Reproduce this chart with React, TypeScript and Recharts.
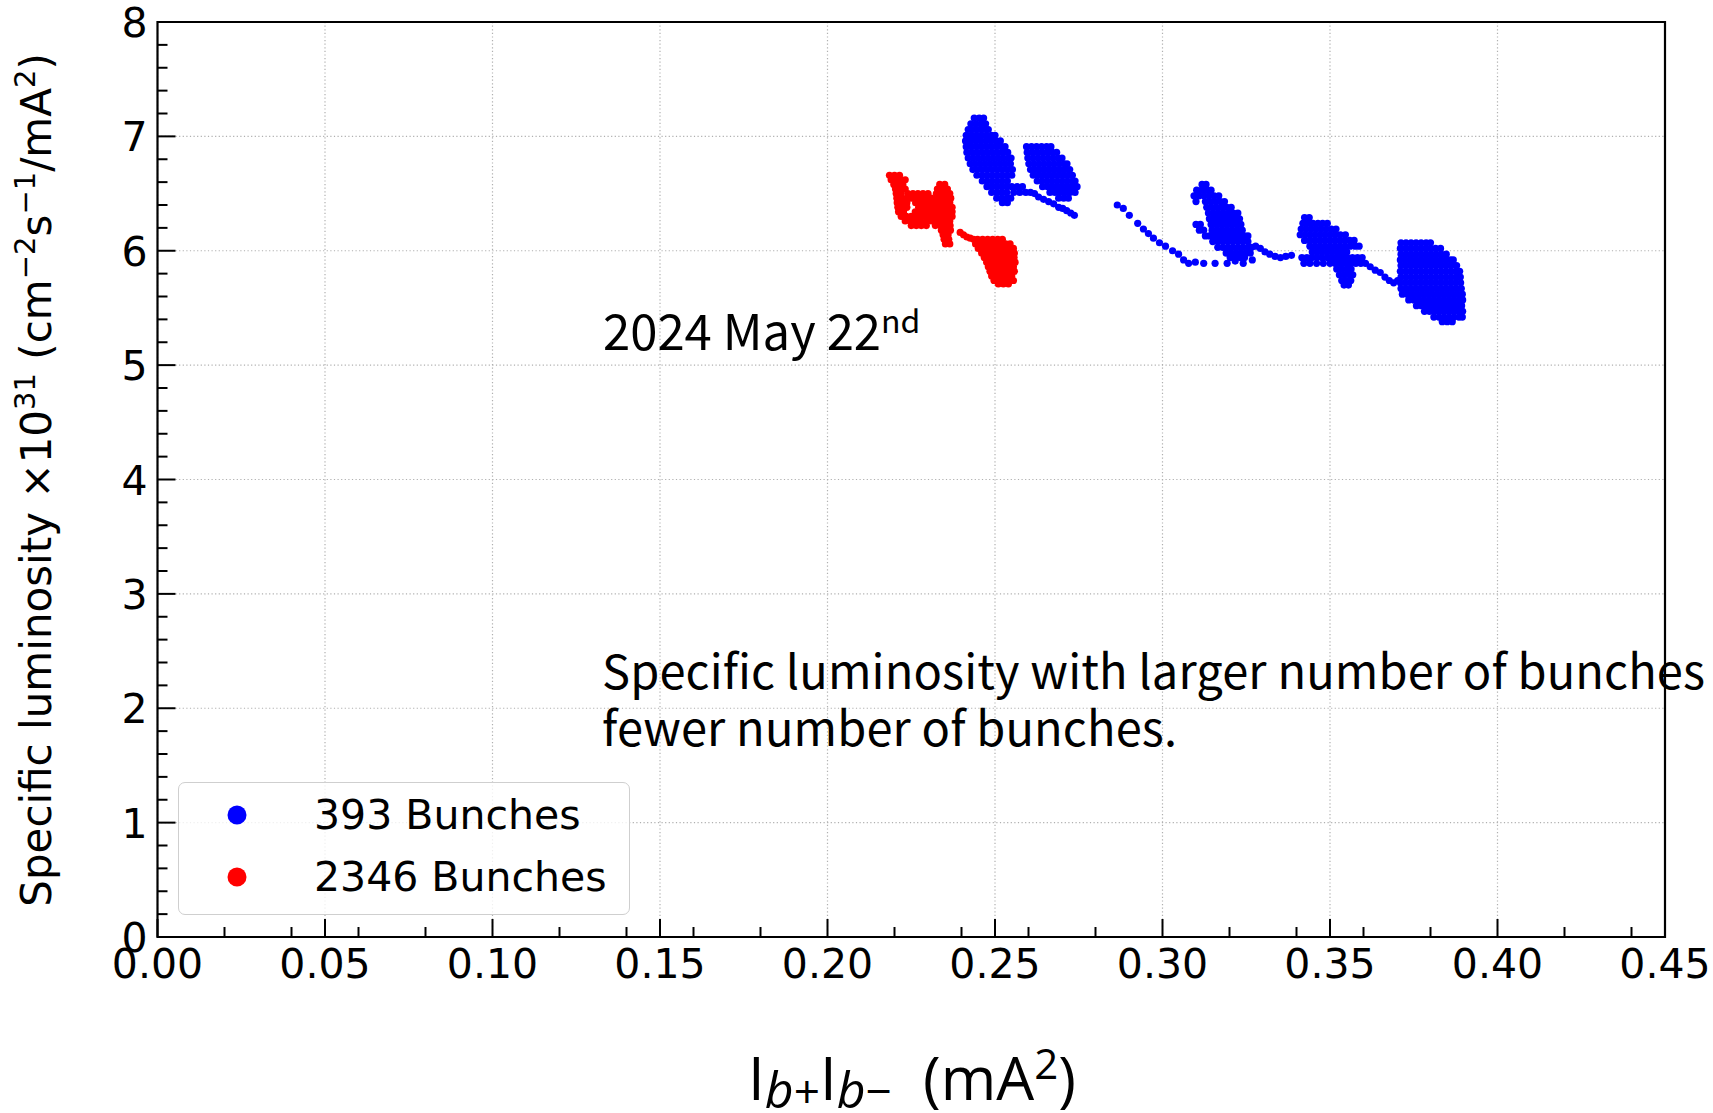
import React from 'react';
import { ScatterChart, Scatter, XAxis, YAxis, CartesianGrid, ReferenceArea, Legend } from 'recharts';

// ---------- axis ticks (majors labelled, minors unlabelled) ----------
const X_TICKS = [0, 0.02, 0.04, 0.05, 0.06, 0.08, 0.1, 0.12, 0.14, 0.15, 0.16, 0.18, 0.2, 0.22, 0.24, 0.25, 0.26, 0.28, 0.3, 0.32, 0.34, 0.35, 0.36, 0.38, 0.4, 0.42, 0.44, 0.45];
const X_MAJOR = [0, 0.05, 0.1, 0.15, 0.2, 0.25, 0.3, 0.35, 0.4, 0.45];
const Y_TICKS = [0, 0.2, 0.4, 0.6, 0.8, 1, 1.2, 1.4, 1.6, 1.8, 2, 2.2, 2.4, 2.6, 2.8, 3, 3.2, 3.4, 3.6, 3.8, 4, 4.2, 4.4, 4.6, 4.8, 5, 5.2, 5.4, 5.6, 5.8, 6, 6.2, 6.4, 6.6, 6.8, 7, 7.2, 7.4, 7.6, 7.8, 8];
const Y_MAJOR = [0, 1, 2, 3, 4, 5, 6, 7, 8];

const SERIES_NAMES = ['393 Bunches', '2346 Bunches'];
const SERIES_COLORS = ['#0000ff', '#ff0000'];

// ---------- 2346 bunches (red): rows are [y, x, x, ...] ----------
const RED_ROWS_A: number[][] = [
  [6.66, 0.2185, 0.2200, 0.2215],
  [6.62, 0.2190, 0.2205, 0.2220, 0.2232],
  [6.58, 0.2198, 0.2212, 0.2225, 0.2335, 0.2350],
  [6.54, 0.2203, 0.2218, 0.2232, 0.2328, 0.2343, 0.2358],
  [6.50, 0.2205, 0.2220, 0.2240, 0.2255, 0.2270, 0.2285, 0.2300, 0.2325, 0.2340, 0.2355, 0.2365],
  [6.46, 0.2207, 0.2222, 0.2237, 0.2250, 0.2265, 0.2280, 0.2295, 0.2310, 0.2325, 0.2340, 0.2355, 0.2368],
  [6.42, 0.2208, 0.2222, 0.2237, 0.2263, 0.2275, 0.2290, 0.2305, 0.2320, 0.2335, 0.2350, 0.2365],
  [6.38, 0.2210, 0.2222, 0.2237, 0.2272, 0.2287, 0.2302, 0.2318, 0.2333, 0.2348, 0.2363, 0.2372],
  [6.34, 0.2212, 0.2227, 0.2262, 0.2276, 0.2290, 0.2304, 0.2318, 0.2332, 0.2346, 0.2360, 0.2372],
  [6.30, 0.2220, 0.2235, 0.2250, 0.2264, 0.2278, 0.2292, 0.2306, 0.2320, 0.2334, 0.2348, 0.2363, 0.2372],
  [6.26, 0.2232, 0.2247, 0.2262, 0.2277, 0.2295, 0.2310, 0.2322, 0.2335, 0.2350, 0.2365],
  [6.22, 0.2250, 0.2265, 0.2280, 0.2295, 0.2322, 0.2338, 0.2353, 0.2366],
  [6.18, 0.2340, 0.2355, 0.2367],
  [6.14, 0.2345, 0.2360],
  [6.10, 0.2348, 0.2362],
  [6.06, 0.2352, 0.2365],
];
const RED_TAIL: number[][] = [
  [0.2396, 6.16], [0.2406, 6.14], [0.2416, 6.12], [0.2426, 6.11], [0.2436, 6.10],
];
const RED_ROWS_B: number[][] = [
  [6.10, 0.2448, 0.2463, 0.2478, 0.2493, 0.2508, 0.2522],
  [6.06, 0.2442, 0.2457, 0.2472, 0.2487, 0.2502, 0.2517, 0.2532, 0.2545],
  [6.02, 0.2450, 0.2465, 0.2480, 0.2495, 0.2510, 0.2525, 0.2540, 0.2555],
  [5.98, 0.2460, 0.2475, 0.2490, 0.2505, 0.2520, 0.2535, 0.2550, 0.2558],
  [5.94, 0.2468, 0.2483, 0.2498, 0.2513, 0.2528, 0.2543, 0.2557],
  [5.90, 0.2475, 0.2490, 0.2505, 0.2520, 0.2535, 0.2550, 0.2560],
  [5.86, 0.2480, 0.2495, 0.2510, 0.2525, 0.2540, 0.2555],
  [5.82, 0.2485, 0.2500, 0.2515, 0.2530, 0.2545, 0.2558],
  [5.78, 0.2490, 0.2505, 0.2520, 0.2535, 0.2550],
  [5.74, 0.2497, 0.2512, 0.2527, 0.2542, 0.2555],
  [5.71, 0.2510, 0.2525, 0.2540],
];

// ---------- 393 bunches (blue) ----------
const BLUE_ROWS_1: number[][] = [
  [7.16, 0.2438, 0.2453, 0.2466],
  [7.11, 0.2428, 0.2443, 0.2458, 0.2472],
  [7.06, 0.2420, 0.2435, 0.2450, 0.2465, 0.2480],
  [7.01, 0.2414, 0.2429, 0.2444, 0.2459, 0.2474, 0.2489, 0.2500],
  [6.96, 0.2412, 0.2427, 0.2442, 0.2457, 0.2472, 0.2487, 0.2502, 0.2516],
  [6.91, 0.2414, 0.2429, 0.2444, 0.2459, 0.2474, 0.2489, 0.2504, 0.2519, 0.2530],
  [6.86, 0.2416, 0.2431, 0.2446, 0.2461, 0.2476, 0.2491, 0.2506, 0.2521, 0.2538],
  [6.81, 0.2420, 0.2435, 0.2450, 0.2465, 0.2480, 0.2495, 0.2510, 0.2525, 0.2540, 0.2548],
  [6.76, 0.2426, 0.2441, 0.2456, 0.2471, 0.2486, 0.2501, 0.2516, 0.2531, 0.2546],
  [6.71, 0.2434, 0.2449, 0.2464, 0.2479, 0.2494, 0.2509, 0.2524, 0.2539, 0.2552],
  [6.66, 0.2446, 0.2461, 0.2476, 0.2491, 0.2506, 0.2521, 0.2536, 0.2550],
  [6.61, 0.2462, 0.2477, 0.2492, 0.2507, 0.2522, 0.2537],
  [6.56, 0.2476, 0.2491, 0.2506, 0.2521, 0.2536, 0.2550, 0.2566, 0.2582],
  [6.51, 0.2490, 0.2505, 0.2520, 0.2535, 0.2556, 0.2574, 0.2592, 0.2606],
  [6.46, 0.2505, 0.2520, 0.2535, 0.2547],
  [6.42, 0.2522, 0.2537],
];
const BLUE_ROWS_2: number[][] = [
  [6.91, 0.2594, 0.2609, 0.2624, 0.2639, 0.2654, 0.2667],
  [6.86, 0.2596, 0.2611, 0.2626, 0.2641, 0.2656, 0.2671, 0.2684],
  [6.81, 0.2598, 0.2613, 0.2628, 0.2643, 0.2658, 0.2673, 0.2688, 0.2700],
  [6.76, 0.2601, 0.2616, 0.2631, 0.2646, 0.2661, 0.2676, 0.2691, 0.2706, 0.2715],
  [6.71, 0.2606, 0.2621, 0.2636, 0.2651, 0.2666, 0.2681, 0.2696, 0.2711, 0.2723],
  [6.66, 0.2614, 0.2629, 0.2644, 0.2659, 0.2674, 0.2689, 0.2704, 0.2719, 0.2731],
  [6.61, 0.2626, 0.2641, 0.2656, 0.2671, 0.2686, 0.2701, 0.2716, 0.2731, 0.2739],
  [6.56, 0.2642, 0.2657, 0.2672, 0.2687, 0.2702, 0.2717, 0.2732, 0.2745],
  [6.51, 0.2664, 0.2679, 0.2694, 0.2709, 0.2724, 0.2739],
  [6.46, 0.2690, 0.2705, 0.2719],
];
const BLUE_TRAIL: number[][] = [
  [0.2618, 6.50], [0.2630, 6.47], [0.2645, 6.45], [0.2660, 6.43], [0.2675, 6.41], [0.2690, 6.38],
  [0.2702, 6.37], [0.2714, 6.35], [0.2726, 6.33], [0.2737, 6.31],
  [0.2865, 6.40], [0.2883, 6.37], [0.2901, 6.31], [0.2926, 6.24], [0.2943, 6.19], [0.2958, 6.15],
  [0.2973, 6.11], [0.2991, 6.07], [0.3009, 6.04], [0.3030, 6.00], [0.3048, 5.97], [0.3063, 5.92],
  [0.3078, 5.89], [0.3098, 5.90], [0.3123, 5.89], [0.3157, 5.89], [0.3193, 5.89], [0.3217, 5.91],
  [0.3241, 5.89], [0.3268, 5.92],
  [0.3278, 6.04], [0.3292, 6.02], [0.3306, 5.99], [0.3320, 5.97], [0.3336, 5.95], [0.3352, 5.94],
  [0.3368, 5.95], [0.3385, 5.96],
  [0.3620, 5.86], [0.3635, 5.83], [0.3650, 5.81], [0.3664, 5.77], [0.3677, 5.74], [0.3690, 5.72],
  [0.3702, 5.74],
];
const BLUE_ROWS_3: number[][] = [
  [6.58, 0.3118, 0.3130],
  [6.53, 0.3102, 0.3117, 0.3132, 0.3145],
  [6.48, 0.3094, 0.3109, 0.3124, 0.3139, 0.3154, 0.3168],
  [6.43, 0.3100, 0.3128, 0.3143, 0.3158, 0.3173, 0.3185],
  [6.38, 0.3132, 0.3147, 0.3162, 0.3177, 0.3192, 0.3205],
  [6.33, 0.3137, 0.3152, 0.3167, 0.3182, 0.3197, 0.3212, 0.3225],
  [6.28, 0.3140, 0.3155, 0.3170, 0.3185, 0.3200, 0.3215, 0.3230],
  [6.23, 0.3100, 0.3113, 0.3145, 0.3160, 0.3175, 0.3190, 0.3205, 0.3220, 0.3234],
  [6.18, 0.3110, 0.3123, 0.3148, 0.3163, 0.3178, 0.3193, 0.3208, 0.3223, 0.3238],
  [6.13, 0.3128, 0.3140, 0.3155, 0.3170, 0.3185, 0.3200, 0.3215, 0.3230, 0.3245, 0.3255],
  [6.08, 0.3150, 0.3165, 0.3180, 0.3195, 0.3210, 0.3225, 0.3240, 0.3255],
  [6.03, 0.3165, 0.3180, 0.3195, 0.3210, 0.3225, 0.3240, 0.3255, 0.3266],
  [5.98, 0.3190, 0.3205, 0.3220, 0.3235, 0.3250, 0.3262],
  [5.94, 0.3202, 0.3217, 0.3232, 0.3245],
];
const BLUE_ROWS_4: number[][] = [
  [6.29, 0.3424, 0.3438],
  [6.24, 0.3419, 0.3434, 0.3449, 0.3464, 0.3478, 0.3492],
  [6.19, 0.3414, 0.3429, 0.3444, 0.3459, 0.3474, 0.3489, 0.3504, 0.3518],
  [6.14, 0.3411, 0.3426, 0.3441, 0.3456, 0.3471, 0.3486, 0.3501, 0.3516, 0.3531, 0.3546],
  [6.09, 0.3424, 0.3439, 0.3454, 0.3469, 0.3484, 0.3499, 0.3514, 0.3529, 0.3544, 0.3559, 0.3572],
  [6.04, 0.3440, 0.3455, 0.3470, 0.3485, 0.3500, 0.3515, 0.3530, 0.3545, 0.3560, 0.3575, 0.3587],
  [5.99, 0.3447, 0.3462, 0.3477, 0.3492, 0.3507, 0.3522, 0.3537, 0.3550],
  [5.94, 0.3416, 0.3431, 0.3446, 0.3461, 0.3476, 0.3492, 0.3507, 0.3522, 0.3537, 0.3552, 0.3567, 0.3582, 0.3596],
  [5.89, 0.3422, 0.3440, 0.3460, 0.3480, 0.3500, 0.3515, 0.3530, 0.3545, 0.3560, 0.3577, 0.3592, 0.3606],
  [5.84, 0.3520, 0.3535, 0.3550, 0.3563],
  [5.79, 0.3528, 0.3543, 0.3558, 0.3568],
  [5.74, 0.3535, 0.3550, 0.3562],
  [5.70, 0.3542, 0.3555],
];
const BLUE_ROWS_5: number[][] = [
  [6.07, 0.3712, 0.3727, 0.3742, 0.3757, 0.3772, 0.3787, 0.3800],
  [6.02, 0.3710, 0.3725, 0.3740, 0.3755, 0.3770, 0.3785, 0.3800, 0.3815, 0.3830],
  [5.97, 0.3712, 0.3727, 0.3742, 0.3757, 0.3772, 0.3787, 0.3802, 0.3817, 0.3832, 0.3847],
  [5.92, 0.3710, 0.3725, 0.3740, 0.3755, 0.3770, 0.3785, 0.3800, 0.3815, 0.3830, 0.3845, 0.3860, 0.3868],
  [5.87, 0.3712, 0.3727, 0.3742, 0.3757, 0.3772, 0.3787, 0.3802, 0.3817, 0.3832, 0.3847, 0.3862, 0.3878],
  [5.82, 0.3710, 0.3725, 0.3740, 0.3755, 0.3770, 0.3785, 0.3800, 0.3815, 0.3830, 0.3845, 0.3860, 0.3875, 0.3887],
  [5.77, 0.3712, 0.3727, 0.3742, 0.3757, 0.3772, 0.3787, 0.3802, 0.3817, 0.3832, 0.3847, 0.3862, 0.3877, 0.3889],
  [5.72, 0.3710, 0.3725, 0.3740, 0.3755, 0.3770, 0.3785, 0.3800, 0.3815, 0.3830, 0.3845, 0.3860, 0.3875, 0.3890],
  [5.67, 0.3712, 0.3727, 0.3742, 0.3757, 0.3772, 0.3787, 0.3802, 0.3817, 0.3832, 0.3847, 0.3862, 0.3877, 0.3892],
  [5.62, 0.3716, 0.3731, 0.3746, 0.3761, 0.3776, 0.3791, 0.3806, 0.3821, 0.3836, 0.3851, 0.3866, 0.3881, 0.3895],
  [5.57, 0.3735, 0.3750, 0.3765, 0.3780, 0.3795, 0.3810, 0.3825, 0.3840, 0.3855, 0.3870, 0.3885, 0.3896],
  [5.52, 0.3758, 0.3773, 0.3788, 0.3803, 0.3818, 0.3833, 0.3848, 0.3863, 0.3878, 0.3893],
  [5.47, 0.3782, 0.3797, 0.3812, 0.3827, 0.3842, 0.3857, 0.3872, 0.3887, 0.3896],
  [5.42, 0.3810, 0.3825, 0.3840, 0.3855, 0.3870, 0.3885, 0.3895],
  [5.38, 0.3835, 0.3850, 0.3865],
];

type Pt = { x: number; y: number };
const fromRows = (rows: number[][]): Pt[] =>
  rows.flatMap((r) => r.slice(1).map((x) => ({ x, y: r[0] })));
const fromPairs = (pairs: number[][]): Pt[] => pairs.map(([x, y]) => ({ x, y }));

const BLUE_DATA: Pt[] = [
  ...fromRows(BLUE_ROWS_1),
  ...fromRows(BLUE_ROWS_2),
  ...fromPairs(BLUE_TRAIL),
  ...fromRows(BLUE_ROWS_3),
  ...fromRows(BLUE_ROWS_4),
  ...fromRows(BLUE_ROWS_5),
];
const RED_DATA: Pt[] = [...fromRows(RED_ROWS_A), ...fromPairs(RED_TAIL), ...fromRows(RED_ROWS_B)];

// ---------- styling ----------
const W = 1713;
const H = 1113;
const AX_FONT = 'DejaVu Sans';
const isMultiple = (v: number, step: number) => Math.abs(v / step - Math.round(v / step)) < 1e-6;

const XTick = (props: any) => {
  const { x, y, payload } = props;
  const v = payload.value as number;
  const major = isMultiple(v, 0.05);
  return (
    <g>
      <line x1={x} x2={x} y1={y} y2={y - (major ? 18 : 10)} stroke="#000" strokeWidth={2} />
      {major && (
        <text x={x} y={y + 41} textAnchor="middle" fontFamily={AX_FONT} fontSize={41} fill="#000">
          {v.toFixed(2)}
        </text>
      )}
    </g>
  );
};

const YTick = (props: any) => {
  const { x, y, payload } = props;
  const v = payload.value as number;
  const major = isMultiple(v, 1);
  return (
    <g>
      <line x1={x} x2={x + (major ? 18 : 10)} y1={y} y2={y} stroke="#000" strokeWidth={2} />
      {major && (
        <text x={x - 10} y={y + 15} textAnchor="end" fontFamily={AX_FONT} fontSize={41} fill="#000">
          {String(Math.round(v))}
        </text>
      )}
    </g>
  );
};

const makeDot = (color: string) => (props: any) => (
  <circle cx={props.cx} cy={props.cy} r={3.6} fill={color} />
);

const LegendBox = (props: any) => {
  const payload: any[] = (props.payload || []).slice();
  payload.sort((a, b) => SERIES_NAMES.indexOf(a.value) - SERIES_NAMES.indexOf(b.value));
  return (
    <div
      style={{
        width: 452,
        height: 133,
        boxSizing: 'border-box',
        border: '1.5px solid #cfcfcf',
        borderRadius: 7,
        background: 'rgba(255,255,255,0.8)',
      }}
    >
      <svg width={450} height={131} style={{ display: 'block' }}>
        {payload.map((p, i) => (
          <g key={p.value}>
            <circle cx={58} cy={32 + i * 62} r={9.5} fill={p.color} />
            <text x={135} y={46 + i * 62} fontFamily={AX_FONT} fontSize={41} fill="#000">
              {p.value}
            </text>
          </g>
        ))}
      </svg>
    </div>
  );
};

const NOTE_FONT = '"Noto Sans CJK JP", "Noto Sans", sans-serif';

export default function App() {
  return (
    <div style={{ position: 'absolute', left: 0, top: 0, width: W, height: H, overflow: 'hidden', background: '#fff' }}>
      <ScatterChart width={W} height={H} margin={{ top: 22, right: 48, bottom: 116, left: 0 }}>
        <CartesianGrid
          stroke="#b0b0b0"
          strokeWidth={1.2}
          strokeDasharray="1.2 2.4"
          verticalValues={X_MAJOR}
          horizontalValues={Y_MAJOR}
        />
        <XAxis
          type="number"
          dataKey="x"
          domain={[0, 0.45]}
          ticks={X_TICKS}
          interval={0}
          height={60}
          tickSize={0}
          tickMargin={0}
          axisLine={false}
          tickLine={false}
          tick={<XTick />}
          allowDataOverflow
        />
        <YAxis
          type="number"
          dataKey="y"
          domain={[0, 8]}
          ticks={Y_TICKS}
          interval={0}
          width={157.5}
          tickSize={0}
          tickMargin={0}
          axisLine={false}
          tickLine={false}
          tick={<YTick />}
          allowDataOverflow
        />
        <Scatter
          name={SERIES_NAMES[0]}
          data={BLUE_DATA}
          fill={SERIES_COLORS[0]}
          shape={makeDot(SERIES_COLORS[0])}
          isAnimationActive={false}
        />
        <Scatter
          name={SERIES_NAMES[1]}
          data={RED_DATA}
          fill={SERIES_COLORS[1]}
          shape={makeDot(SERIES_COLORS[1])}
          isAnimationActive={false}
        />
        <ReferenceArea
          x1={0}
          x2={0.45}
          y1={0}
          y2={8}
          fill="none"
          fillOpacity={0}
          stroke="#000"
          strokeWidth={2.2}
          ifOverflow="visible"
        />
        <Legend
          content={<LegendBox />}
          layout="vertical"
          align="center"
          verticalAlign="middle"
          wrapperStyle={{ position: 'absolute', left: 178, top: 782, width: 452, height: 133 }}
        />
      </ScatterChart>
      <svg
        width={W}
        height={H}
        style={{ position: 'absolute', left: 0, top: 0, pointerEvents: 'none' }}
      >
        <text x={603} y={350} fontFamily={NOTE_FONT} fontSize={49} fill="#000">
          2024 May 22
          <tspan dy={-17} fontSize={32}>nd</tspan>
        </text>
        <text x={602} y={689} fontFamily={NOTE_FONT} fontSize={47} fill="#000" textLength={1103} lengthAdjust="spacing">
          Specific luminosity with larger number of bunches
        </text>
        <text x={602} y={746} fontFamily={NOTE_FONT} fontSize={47} fill="#000" textLength={575} lengthAdjust="spacing">
          fewer number of bunches.
        </text>
        <text
          transform="translate(51, 480) rotate(-90)"
          textAnchor="middle"
          fontFamily={AX_FONT}
          fontSize={42}
          fill="#000"
        >
          Specific luminosity ×10
          <tspan dy={-16} fontSize={29}>31</tspan>
          <tspan dy={16}> (cm</tspan>
          <tspan dy={-16} fontSize={29}>−2</tspan>
          <tspan dy={16}>s</tspan>
          <tspan dy={-16} fontSize={29}>−1</tspan>
          <tspan dy={16}>/mA</tspan>
          <tspan dy={-16} fontSize={29}>2</tspan>
          <tspan dy={16}>)</tspan>
        </text>
        <text x={912} y={1100} textAnchor="middle" fontFamily="Open Sans" fontSize={60} fill="#000">
          I
          <tspan dy={8} fontSize={50} fontStyle="italic">b</tspan>
          <tspan fontSize={46}>+</tspan>
          <tspan dy={-8}>I</tspan>
          <tspan dy={8} fontSize={50} fontStyle="italic">b</tspan>
          <tspan fontSize={46}>−</tspan>
          <tspan dy={-8}>{'\u00a0\u00a0(mA'}</tspan>
          <tspan dy={-21} fontSize={42}>2</tspan>
          <tspan dy={21}>)</tspan>
        </text>
      </svg>
    </div>
  );
}
